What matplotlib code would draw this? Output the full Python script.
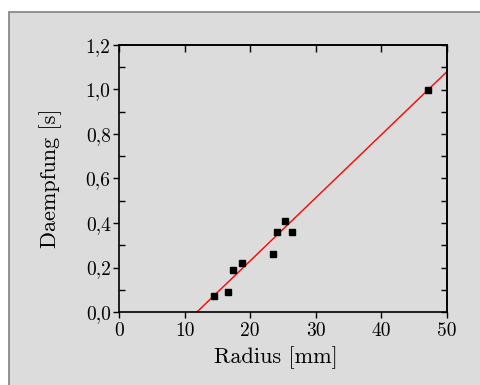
import matplotlib
matplotlib.use("Agg")
import matplotlib.pyplot as plt
from matplotlib.patches import Rectangle
from matplotlib.ticker import MultipleLocator, FuncFormatter

plt.rcParams['font.family'] = 'serif'
plt.rcParams['font.serif'] = ['cmr10', 'DejaVu Serif']
plt.rcParams['mathtext.fontset'] = 'cm'
plt.rcParams['axes.formatter.use_mathtext'] = True

# Measured damping time vs. radius
radius_mm = [14.5, 16.6, 17.4, 18.8, 23.5, 24.1, 25.3, 26.3, 47.1]
damping_s = [0.07, 0.09, 0.19, 0.22, 0.26, 0.36, 0.41, 0.36, 1.00]

# Linear fit: damping = slope * radius + intercept
fit_slope = 0.02835
fit_intercept = -0.337
fit_x = [11.0, 50.0]

fig = plt.figure(figsize=(4.8, 3.85), dpi=100)
fig.patch.set_facecolor('white')
fig.patches.append(Rectangle((9 / 480, -0.01), 1.0, 1.01 - 11.5 / 385,
                             transform=fig.transFigure, facecolor='#dcdcdc',
                             edgecolor='#808080', linewidth=1.2, zorder=-10))

ax = fig.add_axes([119 / 480, 73 / 385, 328 / 480, 267 / 385])
ax.set_facecolor('#dcdcdc')

fit_y = [fit_slope * x + fit_intercept for x in fit_x]
ax.plot(fit_x, fit_y, color='red', linewidth=1.0, zorder=2)
ax.plot(radius_mm, damping_s, linestyle='none', marker='s', markersize=4.3,
        color='black', zorder=3)

ax.set_xlim(0, 50)
ax.set_ylim(0, 1.2)

ax.xaxis.set_major_locator(MultipleLocator(10))
ax.yaxis.set_major_locator(MultipleLocator(0.2))
ax.yaxis.set_minor_locator(MultipleLocator(0.1))
ax.xaxis.set_major_formatter(FuncFormatter(lambda v, p: f"{v:.0f}"))
ax.yaxis.set_major_formatter(FuncFormatter(lambda v, p: f"{v:.1f}".replace('.', ',')))

ax.tick_params(axis='x', which='major', direction='out', length=4, width=1,
               labelsize=14, pad=3)
ax.tick_params(axis='y', which='major', direction='out', length=4, width=1,
               labelsize=14, pad=2)
ax.tick_params(axis='y', which='minor', direction='in', length=4, width=1)

# Secondary ticks on top and right point inward
top = ax.secondary_xaxis('top')
top.set_xticks(range(0, 51, 10))
top.tick_params(direction='in', length=5, width=1, labeltop=False)
right = ax.secondary_yaxis('right')
right.yaxis.set_major_locator(MultipleLocator(0.1))
right.tick_params(direction='in', length=4, width=1, labelright=False)

for s in ax.spines.values():
    s.set_linewidth(1.2)
top.spines['top'].set_linewidth(1.2)
right.spines['right'].set_linewidth(1.2)

ax.set_xlabel('Radius [mm]', fontsize=16)
ax.set_ylabel('Daempfung [s]', fontsize=16)
ax.xaxis.set_label_coords(0.479, -0.127)
ax.yaxis.set_label_coords(-0.174, 0.502)

fig.savefig('out.png', dpi=100, facecolor=fig.get_facecolor())
